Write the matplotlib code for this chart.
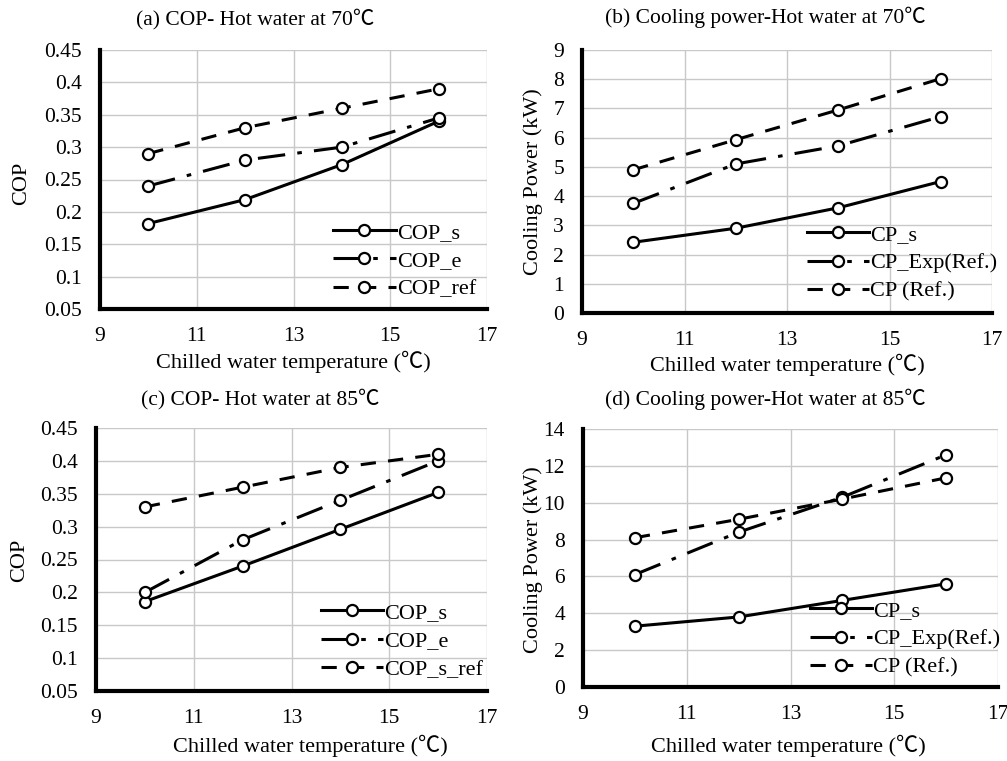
import matplotlib
matplotlib.use('Agg')
from matplotlib import pyplot as plt
from matplotlib.ticker import FuncFormatter, MultipleLocator

plt.rcParams['font.family'] = ['Liberation Serif', 'Noto Sans CJK JP']

temp = [10, 12, 14, 16]
xticks = [9, 11, 13, 15, 17]

# (a) COP, hot water 70
cop70_s = [0.182, 0.219, 0.273, 0.340]
cop70_e = [0.240, 0.280, 0.300, 0.345]
cop70_ref = [0.290, 0.330, 0.360, 0.390]

# (b) cooling power, hot water 70
cp70_s = [2.42, 2.90, 3.60, 4.50]
cp70_exp = [3.75, 5.10, 5.72, 6.72]
cp70_ref = [4.90, 5.93, 6.95, 8.02]

# (c) COP, hot water 85
cop85_s = [0.186, 0.240, 0.296, 0.352]
cop85_e = [0.200, 0.280, 0.340, 0.400]
cop85_ref = [0.330, 0.360, 0.390, 0.410]

# (d) cooling power, hot water 85
cp85_s = [3.30, 3.80, 4.70, 5.60]
cp85_exp = [6.10, 8.40, 10.30, 12.60]
cp85_ref = [8.10, 9.10, 10.20, 11.35]

titles = ['(a) COP- Hot water at 70\u2103',
          '(b) Cooling power-Hot water at 70\u2103',
          '(c) COP- Hot water at 85\u2103',
          '(d) Cooling power-Hot water at 85\u2103']
legends = [['COP_s', 'COP_e', 'COP_ref'],
           ['CP_s', 'CP_Exp(Ref.)', 'CP (Ref.)'],
           ['COP_s', 'COP_e', 'COP_s_ref'],
           ['CP_s', 'CP_Exp(Ref.)', 'CP (Ref.)']]
series = [[cop70_s, cop70_e, cop70_ref],
          [cp70_s, cp70_exp, cp70_ref],
          [cop85_s, cop85_e, cop85_ref],
          [cp85_s, cp85_exp, cp85_ref]]
ylabels = ['COP', 'Cooling Power (kW)', 'COP', 'Cooling Power (kW)']
ylims = [(0.05, 0.45, 0.05), (0, 9, 1), (0.05, 0.45, 0.05), (0, 14, 2)]

W, H = 1007, 761
fig = plt.figure(figsize=(W / 100, H / 100), dpi=100)

# pixel boxes: left, top, right, bottom
boxes = [(100, 50, 487, 309), (582, 50, 992, 313),
         (96, 428, 487, 691), (583, 429, 998, 687)]
title_pos = [(255, 19), (765, 17), (260, 399), (765, 399)]
xlab_pos = [(293, 362), (787, 365), (310, 746), (788, 746)]
ylab_pos = [(22, 183), (533, 182), (20, 560), (533, 560)]
leg_anchor = [(0.58, 0.37), (0.527, 0.37), (0.552, 0.37), (0.525, 0.37)]

styles = ['-', (0, (9, 4, 1.5, 4)), (0, (5, 4))]

for i in range(4):
    l, t, r, b = boxes[i]
    ax = fig.add_axes([l / W, 1 - b / H, (r - l) / W, (b - t) / H])
    for ys, ls, lab in zip(series[i], styles, legends[i]):
        ax.plot(temp, ys, linestyle=ls, color='black', lw=2.2, marker='o',
                ms=8, mfc='white', mec='black', mew=1.6, label=lab)
    lo, hi, step = ylims[i]
    ax.set_xlim(9, 17)
    ax.set_ylim(lo, hi)
    ax.set_xticks(xticks)
    ax.yaxis.set_major_locator(MultipleLocator(step))
    ax.yaxis.set_major_formatter(FuncFormatter(lambda v, p: '{:g}'.format(round(v, 3))))
    ax.grid(True, color='#c8c8c8', lw=1)
    ax.set_axisbelow(True)
    for s in ['top', 'right']:
        ax.spines[s].set_visible(False)
    for s in ['left', 'bottom']:
        ax.spines[s].set_linewidth(3)
    ax.tick_params(length=0, labelsize=15.5, pad=13)
    ax.legend(loc='upper left', bbox_to_anchor=leg_anchor[i], frameon=False,
              fontsize=16, handlelength=2.8, handletextpad=0.05,
              labelspacing=0.35, borderaxespad=0)
    fig.text(title_pos[i][0] / W, 1 - title_pos[i][1] / H, titles[i],
             ha='center', va='center', fontsize=15.5)
    fig.text(xlab_pos[i][0] / W, 1 - xlab_pos[i][1] / H,
             'Chilled water temperature (\u2103)', ha='center', va='center', fontsize=16)
    fig.text(ylab_pos[i][0] / W, 1 - ylab_pos[i][1] / H, ylabels[i],
             ha='center', va='center', rotation=90, fontsize=16)

fig.savefig('out.png', dpi=100)
